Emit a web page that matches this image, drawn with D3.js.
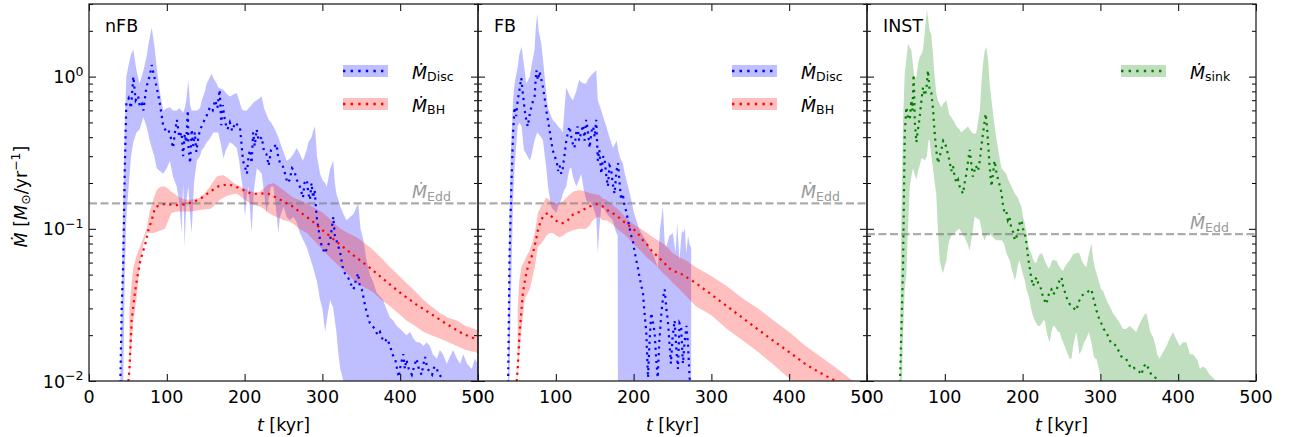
<!DOCTYPE html>
<html>
<head>
<meta charset="utf-8">
<script src="https://cdn.jsdelivr.net/npm/d3@7"></script>
<style>
  body { margin: 0; background: #fff; }
  svg text { font-family: "DejaVu Sans", sans-serif; fill: #000; }
</style>
</head>
<body>
<svg id="chart" width="1291" height="437"></svg>
<script>
// ---- data: [t (kyr), Mdot (Msun/yr)] ----
const xTicks = [0, 100, 200, 300, 400, 500];
const yMajor = [0.01, 0.1, 1];
const yMajorLabels = [["10", "\u22122"], ["10", "\u22121"], ["10", "0"]];
const panelNames = ["nFB", "FB", "INST"];
const eddValues = [0.147, 0.147, 0.0923];

const discNfb = [[40,0.008],[42,0.03],[44,0.06],[46,0.25],[48,0.67],[51,0.72],[54,0.62],[57,1.0],[60,0.7],[63,0.75],[65.5,0.63],[68,0.66],[70,0.6],[73,0.8],[76,0.95],[78,1.0],[80.6,1.19],[83,1.05],[87,0.85],[91,0.67],[95.5,0.47],[99,0.44],[102,0.45],[105,0.4],[108,0.34],[111,0.45],[113,0.52],[116,0.4],[119,0.43],[121,0.3],[123,0.42],[125,0.37],[127,0.6],[128,0.33],[130,0.27],[132,0.45],[134,0.35],[136,0.43],[138,0.32],[140.5,0.4],[143,0.45],[147,0.5],[151,0.55],[155.5,0.63],[159,0.6],[162,0.7],[165,0.62],[168,0.82],[170,0.48],[172,0.65],[175,0.5],[178,0.45],[181,0.5],[184,0.44],[188,0.5],[191,0.48],[194,0.47],[196,0.36],[198,0.28],[201,0.25],[203,0.23],[205,0.3],[207,0.33],[209,0.27],[211,0.43],[213,0.35],[215.5,0.45],[218,0.38],[222,0.4],[225,0.32],[228,0.31],[231,0.26],[234,0.33],[237,0.34],[241,0.36],[243,0.3],[245.5,0.27],[249,0.26],[252,0.23],[255,0.2],[258,0.21],[261,0.25],[264,0.24],[267,0.21],[271,0.19],[275,0.16],[277,0.2],[280,0.21],[282,0.17],[284,0.155],[286,0.2],[288,0.16],[290,0.18],[292.6,0.12],[295,0.1],[297,0.084],[300,0.075],[303.5,0.069],[306,0.075],[310,0.084],[312,0.1],[314,0.12],[316,0.09],[318,0.084],[321,0.075],[323,0.069],[325,0.06],[327,0.053],[330,0.05],[333,0.048],[336,0.044],[340,0.04],[343,0.046],[346,0.051],[348,0.042],[350.6,0.04],[353,0.035],[355,0.031],[358,0.027],[361,0.024],[364,0.023],[367.6,0.022],[371,0.02],[374,0.021],[377,0.019],[380,0.018],[383,0.019],[387,0.017],[390,0.015],[393.8,0.0138],[396,0.012],[398,0.0106],[401,0.013],[404,0.015],[406,0.012],[408,0.0138],[411,0.012],[415,0.011],[418,0.0125],[421,0.014],[424,0.012],[427.5,0.011],[430,0.013],[432,0.0144],[435,0.012],[438,0.0116],[441,0.011],[444,0.0125],[447,0.012],[450,0.011],[453,0.0106],[456,0.0095],[460,0.008],[470,0.007],[480,0.006],[490,0.0055],[500,0.005]];

// [t, lower, upper]
const discNfbBand = [[40,0.005,0.008],[44,0.01,0.15],[46,0.05,0.5],[48,0.12,1.0],[51,0.19,1.2],[54,0.3,1.4],[57,0.37,1.5],[61,0.43,1.1],[65,0.45,0.9],[70,0.54,1.1],[74,0.47,1.35],[77,0.4,1.7],[80.6,0.34,2.1],[84,0.3,1.6],[87,0.25,1.16],[91,0.24,0.8],[95.5,0.23,0.6],[100,0.25,0.62],[104,0.28,0.63],[108,0.22,0.6],[112.7,0.19,0.6],[116,0.15,0.62],[119,0.094,0.6],[121,0.2,0.58],[123,0.076,0.62],[125,0.15,0.7],[127.7,0.19,0.95],[130,0.12,0.65],[132,0.094,0.6],[135,0.2,0.6],[138.6,0.28,0.6],[142.6,0.3,0.62],[145,0.33,0.7],[149,0.35,0.8],[151.3,0.37,0.9],[153.6,0.38,0.95],[157.7,0.41,1.05],[159.8,0.43,0.98],[164,0.43,0.9],[166,0.43,0.85],[170,0.35,0.83],[172.8,0.29,0.82],[176,0.33,0.78],[181,0.37,0.74],[185,0.36,0.76],[189.8,0.34,0.78],[193,0.28,0.7],[196,0.21,0.62],[198,0.18,0.6],[200.5,0.12,0.6],[203,0.17,0.6],[205,0.19,0.62],[209,0.094,0.65],[212,0.18,0.68],[215.6,0.25,0.7],[219,0.24,0.72],[222,0.23,0.74],[225,0.17,0.62],[228.4,0.127,0.56],[231,0.16,0.52],[234,0.19,0.5],[237,0.19,0.47],[240,0.14,0.44],[243.4,0.094,0.4],[245.5,0.12,0.37],[250,0.14,0.32],[254,0.12,0.28],[258.4,0.114,0.29],[262.7,0.12,0.31],[267,0.11,0.34],[271,0.094,0.31],[275,0.085,0.28],[279.7,0.076,0.33],[282,0.07,0.37],[286,0.06,0.4],[288,0.056,0.44],[290.5,0.05,0.47],[293,0.045,0.3],[297,0.034,0.23],[300,0.03,0.21],[303.5,0.021,0.2],[305.6,0.025,0.19],[308,0.03,0.22],[310,0.034,0.25],[314,0.03,0.28],[316,0.025,0.2],[318,0.021,0.17],[320.6,0.015,0.155],[323,0.012,0.14],[327,0.01,0.125],[331,0.009,0.114],[336,0.006,0.12],[340,0.005,0.125],[346,0.005,0.147],[349,0.005,0.1],[352.7,0.005,0.084],[356,0.005,0.065],[361,0.005,0.05],[365,0.005,0.045],[369.7,0.005,0.038],[374,0.005,0.036],[378,0.005,0.034],[382,0.005,0.03],[387,0.005,0.026],[391,0.005,0.025],[395.6,0.005,0.023],[400,0.005,0.022],[404,0.005,0.021],[408,0.005,0.02],[412.7,0.005,0.021],[417,0.005,0.019],[421,0.005,0.018],[425,0.005,0.018],[430,0.005,0.017],[434,0.005,0.018],[438,0.005,0.017],[442,0.005,0.015],[447,0.005,0.014],[451,0.005,0.016],[455,0.005,0.015],[460,0.005,0.013],[464,0.005,0.0145],[468,0.005,0.016],[473,0.005,0.014],[477,0.005,0.013],[481,0.005,0.015],[486,0.005,0.013],[492,0.005,0.012],[496,0.005,0.014],[500,0.005,0.013]];

const bhNfb = [[50,0.009],[52,0.012],[54.8,0.025],[59,0.038],[62,0.048],[65.5,0.06],[69,0.07],[72,0.078],[76.3,0.098],[80.6,0.114],[84.8,0.137],[88,0.141],[91,0.143],[96,0.145],[102,0.145],[107,0.144],[112.7,0.143],[118,0.144],[123.4,0.145],[128,0.147],[134,0.15],[140,0.155],[145,0.16],[150,0.167],[155.5,0.175],[161,0.183],[166.3,0.19],[172,0.193],[177,0.195],[182,0.194],[187.7,0.19],[193,0.185],[198.3,0.18],[204,0.174],[209,0.17],[215,0.17],[219.8,0.17],[225,0.171],[230.5,0.17],[236,0.165],[241,0.16],[246,0.155],[252,0.15],[257,0.143],[262.7,0.14],[270,0.13],[279.7,0.12],[290,0.109],[300,0.098],[320,0.081],[340,0.067],[360,0.056],[380,0.046],[400,0.038],[420,0.032],[440,0.0275],[460,0.0236],[480,0.0205],[500,0.0186]];

const bhNfbBand = [[52,0.01,0.03],[55,0.018,0.045],[57,0.025,0.056],[61,0.034,0.066],[65.5,0.06,0.076],[70,0.08,0.088],[74,0.094,0.1],[78,0.094,0.13],[82.7,0.094,0.155],[86,0.095,0.175],[89,0.096,0.185],[93,0.098,0.19],[97.6,0.1,0.19],[101,0.11,0.185],[106,0.127,0.175],[111,0.129,0.168],[117,0.13,0.16],[124,0.13,0.156],[130,0.13,0.155],[136,0.131,0.157],[142.6,0.133,0.16],[149,0.134,0.172],[155.5,0.135,0.19],[160,0.14,0.205],[164,0.148,0.22],[168.5,0.155,0.224],[172.8,0.16,0.225],[177,0.164,0.218],[181,0.167,0.21],[186,0.169,0.2],[190,0.17,0.195],[194,0.165,0.19],[200,0.155,0.183],[207,0.147,0.178],[213,0.143,0.172],[219.8,0.14,0.175],[225,0.135,0.185],[230,0.128,0.195],[237,0.122,0.2],[244,0.118,0.19],[250,0.114,0.18],[256,0.112,0.17],[262.7,0.108,0.16],[270,0.1,0.155],[280,0.094,0.147],[290,0.083,0.137],[301,0.072,0.127],[312,0.063,0.113],[323,0.056,0.1],[333,0.05,0.094],[344,0.044,0.088],[355,0.041,0.08],[366,0.038,0.072],[376,0.034,0.064],[387,0.031,0.056],[397,0.028,0.05],[408,0.025,0.044],[419,0.023,0.039],[430,0.021,0.034],[440,0.02,0.031],[451,0.019,0.028],[462,0.018,0.026],[473,0.017,0.025],[484,0.016,0.023],[496,0.0155,0.022],[500,0.0153,0.0215]];

const discFb = [[38.5,0.008],[40.6,0.069],[43,0.2],[45,0.42],[47,0.63],[49,0.55],[51,0.7],[53,0.8],[55.6,0.98],[58,0.75],[60,0.6],[62,0.52],[64,0.47],[66,0.55],[68.5,0.63],[71,0.7],[72.7,0.74],[75,1.1],[77,0.95],[79,1.08],[81,0.98],[83.5,0.85],[86,0.7],[87.8,0.6],[91,0.48],[94,0.38],[96,0.33],[98.4,0.3],[101,0.28],[103,0.24],[105,0.26],[107,0.23],[109,0.25],[111,0.3],[113.5,0.38],[116,0.44],[117.7,0.47],[120,0.4],[122,0.36],[124,0.34],[126,0.42],[128,0.47],[130,0.38],[132.7,0.43],[135,0.48],[137,0.38],[139,0.52],[141,0.45],[143.5,0.34],[146,0.44],[148,0.47],[150,0.4],[152,0.52],[154,0.28],[156,0.33],[158.5,0.23],[161,0.3],[163,0.28],[165,0.22],[167,0.19],[169,0.26],[171,0.25],[173,0.2],[175.5,0.17],[178,0.24],[180,0.27],[182,0.2],[184,0.155],[186,0.17],[188.5,0.14],[190.6,0.13],[192.7,0.114],[195,0.1],[197,0.09],[199,0.084],[201,0.072],[203.5,0.062],[205.6,0.055],[207.7,0.048],[210,0.042],[212,0.038],[214,0.028],[216.3,0.021],[218.5,0.0105],[220.5,0.018],[222.7,0.028],[225,0.024],[227,0.021],[229,0.014],[231,0.0105],[233,0.018],[235.5,0.027],[237.7,0.035],[240,0.04],[242,0.03],[244,0.025],[246,0.018],[248,0.013],[250,0.019],[252.7,0.025],[255,0.016],[257,0.012],[259,0.024],[261,0.023],[263.4,0.013],[265.5,0.018],[268,0.023],[270,0.017],[272,0.0105],[274,0.008]];

const discFbBand = [[38.5,0.005,0.008],[40,0.008,0.094],[42,0.03,0.3],[45,0.15,0.7],[47,0.25,0.9],[51,0.47,1.16],[53,0.5,1.4],[56,0.47,1.57],[59,0.33,1.2],[62,0.31,0.9],[66.6,0.28,1.0],[68.5,0.3,1.16],[72.7,0.38,1.5],[74,0.4,2.0],[76,0.43,2.6],[78,0.42,2.0],[81.3,0.4,1.65],[83.5,0.38,1.3],[87.8,0.25,0.78],[90,0.19,0.62],[94,0.14,0.55],[96,0.135,0.52],[100.6,0.127,0.49],[103,0.14,0.47],[107,0.155,0.45],[109,0.17,0.43],[111,0.18,0.6],[113.5,0.19,0.85],[115.5,0.22,0.8],[118,0.25,0.75],[120,0.25,0.72],[122,0.22,0.7],[126.3,0.19,0.8],[130,0.21,0.95],[132.7,0.23,0.92],[136,0.18,0.9],[139,0.155,0.9],[141,0.15,0.95],[144,0.15,1.0],[147.7,0.14,1.05],[152,0.12,1.1],[154,0.069,0.7],[156,0.1,0.65],[158.5,0.14,0.6],[162,0.135,0.52],[165,0.127,0.47],[169,0.12,0.4],[173.4,0.114,0.34],[176,0.1,0.36],[178,0.094,0.38],[179.5,0.09,0.35],[180,0.004,0.33],[183,0.004,0.29],[186.3,0.004,0.27],[188,0.004,0.24],[190.6,0.004,0.21],[194,0.004,0.18],[197,0.004,0.155],[200,0.004,0.13],[203.5,0.004,0.114],[207,0.004,0.1],[210,0.004,0.094],[213,0.004,0.088],[216,0.004,0.084],[220,0.004,0.075],[224.7,0.004,0.069],[228,0.004,0.062],[231,0.004,0.056],[234,0.004,0.1],[237.7,0.004,0.14],[240,0.004,0.08],[242,0.004,0.076],[246,0.004,0.09],[250.4,0.004,0.094],[254,0.004,0.07],[256,0.004,0.11],[259,0.004,0.062],[262,0.004,0.098],[263.4,0.004,0.094],[266,0.004,0.1],[267.6,0.004,0.069],[270,0.004,0.09],[272,0.004,0.079],[274,0.004,0.075]];

const bhFb = [[49,0.009],[51,0.012],[53.5,0.021],[57.7,0.038],[61,0.048],[64,0.056],[67,0.062],[70.6,0.069],[74,0.082],[77,0.098],[80,0.11],[83.5,0.12],[87,0.125],[90,0.127],[93,0.123],[96.3,0.118],[99.5,0.114],[102.7,0.111],[106,0.109],[109,0.109],[112,0.111],[115.5,0.114],[119,0.119],[122,0.124],[126,0.127],[130,0.129],[135,0.133],[139,0.137],[143,0.14],[147.7,0.143],[151,0.145],[154,0.145],[157,0.143],[160.6,0.14],[165,0.135],[169,0.129],[175,0.125],[180,0.12],[185,0.114],[190.6,0.108],[196,0.103],[201.4,0.098],[207,0.091],[212,0.084],[218,0.078],[223,0.072],[228,0.068],[233.4,0.064],[239,0.06],[244,0.056],[250,0.053],[260,0.051],[280,0.044],[300,0.037],[320,0.031],[340,0.026],[360,0.0218],[380,0.0183],[400,0.0155],[420,0.013],[440,0.0113],[460,0.01],[480,0.0088],[500,0.0078]];

const bhFbBand = [[51,0.01,0.03],[53,0.015,0.045],[55.6,0.021,0.056],[60,0.034,0.062],[63,0.037,0.067],[66.6,0.04,0.072],[70,0.048,0.082],[73,0.056,0.094],[77,0.076,0.127],[81,0.08,0.14],[85,0.085,0.152],[87.8,0.09,0.16],[92,0.094,0.155],[96.3,0.094,0.147],[101,0.09,0.147],[105,0.088,0.147],[109,0.09,0.152],[113.5,0.094,0.16],[118,0.096,0.168],[122,0.098,0.175],[126,0.099,0.178],[130,0.1,0.18],[135,0.1,0.178],[139,0.1,0.175],[143.5,0.105,0.172],[147.7,0.114,0.17],[152,0.118,0.168],[156,0.12,0.167],[160,0.114,0.158],[165,0.114,0.155],[170,0.11,0.148],[175.5,0.104,0.14],[181,0.098,0.133],[186,0.094,0.124],[192,0.088,0.116],[199,0.08,0.108],[205,0.075,0.103],[212,0.069,0.098],[218,0.064,0.093],[224.7,0.06,0.088],[231,0.056,0.084],[237.7,0.051,0.08],[244,0.048,0.075],[250.4,0.044,0.069],[259,0.04,0.065],[267.6,0.036,0.062],[280,0.031,0.056],[300,0.027,0.049],[320,0.022,0.042],[340,0.0185,0.035],[360,0.0155,0.03],[380,0.0128,0.025],[400,0.0104,0.021],[420,0.0088,0.0172],[440,0.0076,0.0145],[460,0.0066,0.0122],[480,0.0058,0.0102],[500,0.0052,0.0088]];

const sinkInst = [[42,0.008],[44,0.02],[46.3,0.056],[48.5,0.42],[50.6,0.63],[52.5,0.55],[55,0.52],[57,0.7],[58.5,0.6],[60,1.03],[61.5,0.5],[63.5,0.37],[65.5,0.45],[67.7,0.54],[70,0.7],[72,0.85],[74,0.75],[76.3,0.82],[78.4,1.1],[80.5,0.8],[82.7,0.78],[85,0.6],[87,0.42],[89,0.33],[91.3,0.27],[93.5,0.3],[95.6,0.33],[98,0.38],[100,0.37],[102,0.34],[104,0.31],[106,0.28],[108.4,0.24],[110.5,0.26],[112.7,0.22],[115,0.2],[117,0.21],[119,0.19],[121,0.18],[123.4,0.17],[125.5,0.2],[127.7,0.23],[130,0.28],[132,0.33],[134,0.27],[136,0.22],[138,0.24],[140,0.26],[142.7,0.24],[145,0.28],[147,0.35],[149,0.42],[151,0.5],[152.5,0.57],[154,0.48],[155.6,0.37],[157.5,0.26],[160,0.19],[162,0.23],[164,0.28],[166,0.24],[168.5,0.21],[171,0.19],[173,0.17],[175,0.14],[177,0.127],[179,0.13],[181,0.114],[183,0.12],[185.6,0.1],[188,0.095],[190,0.084],[192,0.088],[194.5,0.1],[196.5,0.11],[198.4,0.114],[200.5,0.1],[202.7,0.094],[205,0.08],[207,0.065],[209,0.056],[211,0.048],[213.4,0.042],[215.5,0.045],[217.7,0.048],[220,0.044],[222,0.042],[224,0.04],[226,0.036],[228,0.034],[230.6,0.032],[233,0.036],[235,0.039],[237,0.04],[239,0.037],[241,0.038],[243.4,0.039],[246,0.044],[248,0.046],[250,0.048],[252,0.042],[254,0.039],[256,0.036],[258,0.034],[260.5,0.032],[263,0.031],[266,0.03],[269,0.029],[272,0.033],[275.6,0.036],[278,0.037],[282,0.038],[285,0.039],[288.4,0.04],[291,0.035],[295,0.029],[298,0.026],[301,0.024],[304,0.022],[307.6,0.021],[311,0.019],[314,0.0177],[317,0.0175],[320.5,0.017],[324,0.0155],[327,0.0145],[330,0.0142],[333,0.014],[336,0.013],[340,0.012],[343,0.0122],[346.3,0.0118],[350,0.0115],[352.6,0.011],[356,0.0125],[359,0.013],[362,0.012],[365.5,0.011],[369,0.0108],[372,0.0103],[375,0.0101],[377,0.0098],[380,0.009],[390,0.008],[400,0.007]];

const sinkInstBand = [[42,0.005,0.008],[44,0.006,0.1],[46.3,0.02,0.5],[48.5,0.04,1.05],[50.6,0.05,1.3],[52.7,0.1,1.65],[55,0.19,1.55],[57,0.22,1.5],[59,0.25,1.2],[61,0.23,0.95],[63.5,0.21,1.0],[65.5,0.24,1.2],[67.7,0.26,1.35],[70,0.29,1.4],[72,0.29,1.5],[74,0.28,1.9],[77,0.3,2.75],[79,0.38,2.3],[80.6,0.38,2.0],[82.7,0.3,1.9],[84.8,0.25,1.4],[87,0.2,1.0],[89,0.17,0.78],[91,0.1,0.7],[93.5,0.062,0.66],[95.6,0.055,0.63],[97.7,0.051,0.66],[100,0.057,0.68],[102,0.062,0.7],[104,0.075,0.62],[106,0.084,0.56],[108.4,0.09,0.54],[112.7,0.094,0.5],[115,0.097,0.47],[119,0.1,0.45],[121,0.095,0.43],[125.5,0.088,0.45],[129.8,0.078,0.47],[132,0.072,0.45],[135,0.09,0.43],[138.4,0.12,0.42],[140.5,0.118,0.43],[145,0.114,0.6],[147,0.1,0.9],[149,0.09,1.2],[151,0.084,1.45],[153.5,0.09,1.57],[155.6,0.094,1.3],[157.7,0.094,0.9],[160,0.09,0.7],[163,0.087,0.52],[166,0.084,0.4],[170,0.084,0.3],[173,0.084,0.25],[176,0.08,0.24],[179,0.07,0.23],[181.5,0.065,0.21],[183.6,0.062,0.2],[185.6,0.055,0.19],[188,0.05,0.18],[190,0.046,0.17],[192,0.05,0.165],[194,0.058,0.16],[196,0.062,0.15],[198.4,0.055,0.14],[200.5,0.05,0.12],[202.7,0.046,0.11],[205,0.04,0.094],[207,0.037,0.08],[209,0.034,0.072],[211,0.03,0.069],[213,0.027,0.064],[215.5,0.025,0.06],[217.7,0.024,0.06],[220,0.023,0.065],[222,0.023,0.068],[224.7,0.024,0.069],[226.5,0.025,0.066],[228.4,0.025,0.062],[231,0.021,0.058],[233,0.019,0.055],[235,0.018,0.056],[237,0.021,0.06],[239,0.023,0.063],[241,0.023,0.062],[243.4,0.022,0.062],[246,0.021,0.058],[247.7,0.021,0.056],[250,0.019,0.054],[252,0.018,0.053],[254,0.017,0.056],[258,0.015,0.06],[260.5,0.014,0.062],[262.7,0.014,0.065],[265,0.017,0.068],[269,0.021,0.069],[271,0.018,0.07],[273,0.015,0.069],[276,0.016,0.062],[279,0.018,0.058],[282,0.019,0.056],[285,0.021,0.068],[288.4,0.018,0.08],[291,0.015,0.062],[293,0.014,0.055],[295,0.014,0.051],[298,0.012,0.045],[301,0.0105,0.04],[303.5,0.0095,0.039],[306,0.006,0.036],[309,0.005,0.033],[312,0.005,0.031],[316,0.005,0.028],[320.5,0.005,0.026],[325,0.005,0.024],[329,0.005,0.022],[333,0.005,0.022],[337.7,0.005,0.023],[342,0.005,0.022],[346,0.005,0.021],[349,0.005,0.023],[352.6,0.005,0.025],[356,0.005,0.027],[359,0.005,0.028],[362,0.005,0.024],[364,0.005,0.021],[367.6,0.005,0.0195],[371,0.005,0.017],[373,0.005,0.015],[376,0.005,0.014],[379,0.005,0.015],[382,0.005,0.016],[385,0.005,0.017],[389,0.005,0.019],[393.5,0.005,0.021],[397,0.005,0.019],[402,0.005,0.017],[406,0.005,0.018],[410.5,0.005,0.018],[415,0.005,0.015],[419,0.005,0.015],[424.6,0.005,0.0138],[428,0.005,0.012],[432,0.005,0.0125],[436,0.005,0.012],[440.5,0.005,0.011],[445,0.005,0.0105],[449,0.005,0.0098],[452,0.005,0.009]];

// ---- layout ----
const margin = { left: 89, top: 4 };
const pw = 389, ph = 377;
const fs = 17.5, fsSmall = 12.5;

const svg = d3.select("#chart");

const x = d3.scaleLinear().domain([0, 500]).range([0, pw]);
const y = d3.scaleLog().domain([0.01, 3.0]).range([ph, 0]);

const yMinor = [];
[0.01, 0.1, 1].forEach(dec => {
    for (let k = 2; k <= 9; k++) if (dec * k <= 3.0) yMinor.push(dec * k);
});

const panels = [
    { series: [
        { key: "Disc", color: "#0000ff", line: discNfb, band: discNfbBand },
        { key: "BH", color: "#ff0000", line: bhNfb, band: bhNfbBand } ] },
    { series: [
        { key: "Disc", color: "#0000ff", line: discFb, band: discFbBand },
        { key: "BH", color: "#ff0000", line: bhFb, band: bhFbBand } ] },
    { series: [
        { key: "sink", color: "#008000", line: sinkInst, band: sinkInstBand } ] }
];

// Mdot with subscript, mathtext-like
function mdot(textSel, sub, fill) {
    textSel.append("tspan").attr("font-style", "italic").attr("font-size", fs)
        .style("fill", fill).text("\u1E40");
    textSel.append("tspan").attr("font-size", fsSmall).attr("dy", 2.8)
        .style("fill", fill).text(sub);
}

const lineGen = d3.line().x(d => x(d[0])).y(d => y(d[1]));
const areaGen = d3.area().x(d => x(d[0])).y0(d => y(d[1])).y1(d => y(d[2]));

panels.forEach((p, i) => {
    const g = svg.append("g")
        .attr("transform", `translate(${margin.left + i * pw},${margin.top})`);

    g.append("clipPath").attr("id", "clip" + i)
        .append("rect").attr("width", pw).attr("height", ph);

    const plot = g.append("g").attr("clip-path", `url(#clip${i})`);

    // bands
    p.series.forEach(s => {
        plot.append("path").datum(s.band)
            .attr("d", areaGen)
            .attr("fill", s.color).attr("fill-opacity", 0.25);
    });

    // Eddington line
    plot.append("line")
        .attr("x1", 0).attr("x2", pw)
        .attr("y1", y(eddValues[i])).attr("y2", y(eddValues[i]))
        .attr("stroke", "#808080").attr("stroke-opacity", 0.65)
        .attr("stroke-width", 2.2).attr("stroke-dasharray", "8,3.5");

    // dotted lines
    p.series.forEach(s => {
        plot.append("path").datum(s.line)
            .attr("d", lineGen)
            .attr("fill", "none").attr("stroke", s.color)
            .attr("stroke-width", 2.2).attr("stroke-dasharray", "2.2,4.4");
    });

    // Edd label
    const eddText = g.append("text")
        .attr("x", pw - 66).attr("y", y(eddValues[i]) - 5);
    mdot(eddText, "Edd", "#999");

    // legend
    p.series.forEach((s, k) => {
        const cy = 67 + k * 33;
        const lx = pw - 135;
        g.append("rect").attr("x", lx).attr("y", cy - 6).attr("width", 45).attr("height", 12)
            .attr("fill", s.color).attr("fill-opacity", 0.25);
        g.append("line").attr("x1", lx).attr("x2", lx + 45).attr("y1", cy).attr("y2", cy)
            .attr("stroke", s.color).attr("stroke-width", 2.4).attr("stroke-dasharray", "2.4,5.2");
        const t = g.append("text").attr("x", pw - 66).attr("y", cy + 7.5);
        mdot(t, s.key, "#000");
    });

    // panel name
    g.append("text").attr("x", 16).attr("y", 28).attr("font-size", fs).text(panelNames[i]);

    // ticks (inward, all sides)
    const tickStyle = sel => {
        sel.select(".domain").remove();
        sel.selectAll("line").attr("stroke", "#000").attr("stroke-width", 1);
        sel.selectAll("text").remove();
    };
    g.append("g").attr("transform", `translate(0,${ph})`)
        .call(d3.axisBottom(x).tickValues(xTicks).tickSize(-7)).call(tickStyle);
    g.append("g")
        .call(d3.axisTop(x).tickValues(xTicks).tickSize(-7)).call(tickStyle);
    g.append("g").call(d3.axisLeft(y).tickValues(yMajor).tickSize(-7)).call(tickStyle);
    g.append("g").call(d3.axisLeft(y).tickValues(yMinor).tickSize(-4)).call(tickStyle);
    g.append("g").attr("transform", `translate(${pw},0)`)
        .call(d3.axisRight(y).tickValues(yMajor).tickSize(-7)).call(tickStyle);
    g.append("g").attr("transform", `translate(${pw},0)`)
        .call(d3.axisRight(y).tickValues(yMinor).tickSize(-4)).call(tickStyle);

    // frame
    g.append("rect").attr("width", pw).attr("height", ph)
        .attr("fill", "none").attr("stroke", "#222").attr("stroke-width", 1.3);

    // x tick labels
    g.selectAll("text.xtl").data(xTicks).join("text").attr("class", "xtl")
        .attr("x", d => x(d)).attr("y", ph + 21.5)
        .attr("text-anchor", "middle").attr("font-size", fs).text(d => d);

    // x label
    const xl = g.append("text").attr("x", pw / 2).attr("y", ph + 49.5)
        .attr("text-anchor", "middle").attr("font-size", fs);
    xl.append("tspan").attr("font-style", "italic").text("t");
    xl.append("tspan").text(" [kyr]");

    // y tick labels only on first panel
    if (i === 0) {
        yMajor.forEach((v, k) => {
            const t = g.append("text").attr("x", -5.5).attr("y", y(v) + 6.5)
                .attr("text-anchor", "end").attr("font-size", fs);
            t.append("tspan").text(yMajorLabels[k][0]);
            t.append("tspan").attr("font-size", fsSmall).attr("dy", -7.5).text(yMajorLabels[k][1]);
        });

        const yl = g.append("text")
            .attr("transform", `translate(${-62},${ph / 2 + 4}) rotate(-90)`)
            .attr("text-anchor", "middle").attr("font-size", fs);
        yl.append("tspan").attr("font-style", "italic").text("\u1E40");
        yl.append("tspan").text(" [");
        yl.append("tspan").attr("font-style", "italic").text("M");
        yl.append("tspan").attr("font-size", fsSmall).attr("dy", 3).text("\u2299");
        yl.append("tspan").attr("dy", -3).text("/yr");
        yl.append("tspan").attr("font-size", fsSmall).attr("dy", -7.5).text("\u22121");
        yl.append("tspan").attr("dy", 7.5).text("]");
    }
});
</script>
</body>
</html>
